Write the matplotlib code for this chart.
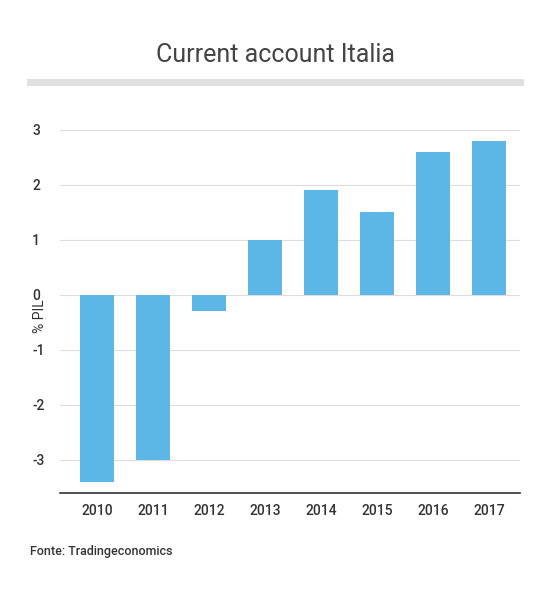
import matplotlib
matplotlib.use("Agg")
import matplotlib.pyplot as plt
from matplotlib.lines import Line2D

years = ["2010","2011","2012","2013","2014","2015","2016","2017"]
values = [-3.4, -3.0, -0.3, 1.0, 1.9, 1.5, 2.6, 2.8]
yticks = [-3, -2, -1, 0, 1, 2, 3]

plt.rcParams['font.family'] = ['Roboto', 'DejaVu Sans']
W, H = 550, 595
fig = plt.figure(figsize=(W/100, H/100), dpi=100)
ax = fig.add_axes([60/W, 1-493/H, 460/W, (493-113)/H])
x = range(len(years))
ax.bar(x, values, width=0.6, color="#5DB7E6", zorder=2)
ax.set_xlim(-0.66, 7.55)
ax.set_ylim(-3.6, 3.3)
ax.set_yticks(yticks)
ax.set_yticklabels([str(t) for t in yticks], fontweight='medium')
ax.set_xticks(list(x))
ax.set_xticklabels(years, fontweight='medium')
ax.grid(axis='y', color='#dddddd', lw=0.8, zorder=0)
for s in ['top','right','left']:
    ax.spines[s].set_visible(False)
ax.spines['bottom'].set_color('#333333')
ax.spines['bottom'].set_linewidth(1.2)
ax.tick_params(axis='both', length=0, labelsize=10, colors='#333333')
ax.tick_params(axis='x', pad=8)
for lab in ax.get_yticklabels():
    lab.set_horizontalalignment('left')
ax.tick_params(axis='y', pad=20)
fig.text(40/W, 1-316/H, "% PIL", rotation=90, ha='center', va='center', fontsize=10, color='#333333')
fig.text(0.5, 1-55/H, "Current account Italia", ha='center', va='center', fontsize=18, color='#444444')
fig.add_artist(Line2D([30/W, 520/W], [1-82/H, 1-82/H], color='#e0e0e0', lw=5))
fig.text(30/W, 1-552/H, "Fonte: Tradingeconomics", ha='left', va='center', fontsize=9, color='#333333', fontweight='medium')
fig.savefig("out.png", dpi=100)
